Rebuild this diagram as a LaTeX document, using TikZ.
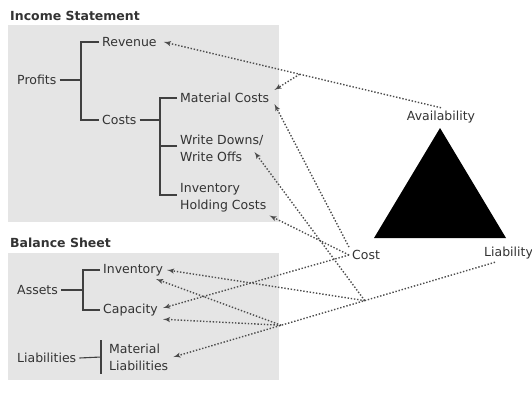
\documentclass[tikz,border=0pt]{standalone}
\usepackage{fontspec}
\setmainfont{DejaVu Sans}
\usepackage{tikz}
\usetikzlibrary{arrows}
\tikzstyle{itm_t} = [anchor=west, inner sep=3pt, align=left, text=black!80, font=\fontsize{12.5}{17}\selectfont]
\tikzstyle{hdr_t} = [itm_t, font=\fontsize{12.5}{17}\selectfont\bfseries]
\tikzstyle{brk_l} = [draw=black!75, line width=1.1pt]
\tikzstyle{lnk_d} = [->, draw=black!70, line width=1.4pt, dash pattern=on 1.4pt off 1.8pt]
\tikzstyle{pnl_b} = [fill=gray!20, draw=none]

\begin{document}
\begin{tikzpicture}[x=1pt,y=-1pt,>=latex']
\useasboundingbox (0,0) rectangle (532,404);
% panels
\path[pnl_b] (8,25) rectangle (279,222);
\path[pnl_b] (8,253) rectangle (279,380);
% income statement
\node [hdr_t] (inc) at (7,16) {Income Statement};
\node [itm_t] (profits) at (14,80) {Profits};
\node [itm_t] (revenue) at (99,42) {Revenue};
\node [itm_t] (costs) at (99,120) {Costs};
\node [itm_t] (matc) at (177,98) {Material Costs};
\node [itm_t] (wd) at (177,148) {Write Downs/\\Write Offs};
\node [itm_t] (hold) at (177,198) {Inventory\\Holding Costs};
% balance sheet
\node [hdr_t] (bal) at (7,243) {Balance Sheet};
\node [itm_t] (assets) at (14,290) {Assets};
\node [itm_t] (inv) at (100,270) {Inventory};
\node [itm_t] (cap) at (100,310) {Capacity};
\node [itm_t] (liabs) at (14,358) {Liabilities};
\node [itm_t] (mliab) at (106,357) {Material\\Liabilities};
% brackets
\coordinate (pf) at (81,80);
\coordinate (cf) at (160,120);
\coordinate (af) at (83,290);
\draw[brk_l] (profits.east) -- (pf);
\draw[brk_l] (revenue.west) -| (pf) |- (costs.west);
\draw[brk_l] (costs.east) -- (cf);
\draw[brk_l] (matc.west) -| (cf) |- ([yshift=3pt]hold.west);
\draw[brk_l] ([yshift=2pt]wd.west) -| (cf);
\draw[brk_l] (assets.east) -- (af);
\draw[brk_l] (inv.west) -| (af) |- (cap.west);
\draw[brk_l] (liabs.east) -- ([xshift=-5pt]mliab.west);
\draw[brk_l] ([xshift=-5pt]mliab.north west) -- ([xshift=-5pt]mliab.south west);
% triangle
\fill[black] (440,128) -- (374,238) -- (506,238) -- cycle;
\node [itm_t, anchor=center] (avail) at (441,117) {Availability};
\node [itm_t] (cost) at (349,255) {Cost};
\node [itm_t] (liab) at (481,253) {Liability};
% junctions
\path (avail.north) -- ([xshift=4pt]revenue.east) coordinate[pos=0.51] (avj);
\path ([xshift=14pt]liab.south west) -- ([xshift=2pt]mliab.east) coordinate[pos=0.405] (lj1) coordinate[pos=0.665] (lj2);
% links
\draw[lnk_d] (avail.north) -- ([xshift=4pt]revenue.east);
\draw[lnk_d] (avj) -- ([xshift=2pt]matc.north east);
\draw[lnk_d] (cost.north west) -- ([xshift=2pt,yshift=-6pt]matc.east);
\draw[lnk_d] (cost.west) -- (hold.south east);
\draw[lnk_d] (cost.west) -- ([xshift=2pt,yshift=2pt]cap.east);
\draw[lnk_d] ([xshift=14pt]liab.south west) -- ([xshift=2pt]mliab.east);
\draw[lnk_d] (lj1) -- ([xshift=-12pt,yshift=-4pt]wd.east);
\draw[lnk_d] (lj1) -- ([xshift=1pt]inv.east);
\draw[lnk_d] (lj2) -- ([xshift=-10pt]inv.south east);
\draw[lnk_d] (lj2) -- ([xshift=2pt]cap.south east);
\end{tikzpicture}
\end{document}
